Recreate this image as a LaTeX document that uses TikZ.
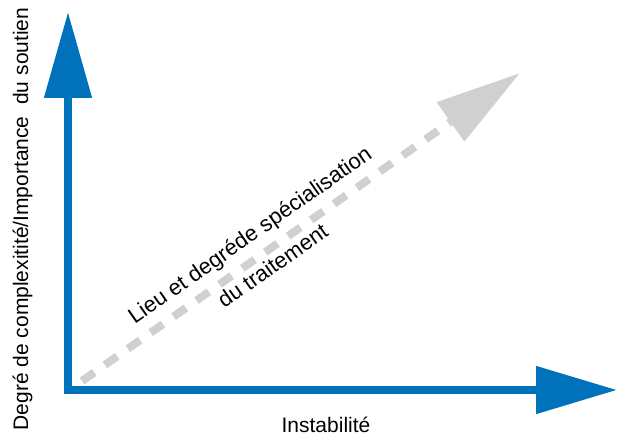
\documentclass[tikz,border=0pt]{standalone}
\usepackage{fontspec}
\setmainfont{Liberation Sans}
\usetikzlibrary{arrows.meta}
\definecolor{axisblue}{RGB}{0,114,188}
\definecolor{trendgrey}{RGB}{208,208,208}

\begin{document}
\begin{tikzpicture}[x=1pt, y=-1pt]
            \tikzstyle{axisline}=[draw=axisblue, line width=8pt, line join=miter, {Triangle[length=86pt,width=46pt]}-{Triangle[length=81pt,width=46pt]}]
            \tikzstyle{trendline}=[draw=trendgrey, line width=8pt, dash pattern=on 15pt off 13pt, -{Triangle[length=85pt,width=46pt]}]
            \tikzstyle{txt}=[inner sep=0pt, font=\fontsize{21}{25}\selectfont]
            \tikzstyle{trendtxt}=[inner sep=0pt, font=\fontsize{22}{26}\selectfont, anchor=base, rotate=35]
            \useasboundingbox (0,0) rectangle (617,435);

            \coordinate (A_0) at (68,390);
            \coordinate (A_y) at (68,12);
            \coordinate (A_x) at (617,390);
            \coordinate (T_0) at (82,381);
            \coordinate (T_1) at (520,73);

            \draw[axisline] (A_y) -- (A_0) -- (A_x);
            \draw[trendline] (T_0) -- (T_1);

            \node[txt, anchor=base] (L_x) at (326,432) {Instabilité};
            \node[txt, anchor=base, rotate=90] (L_y) at (28,219) {Degré de complexitité/Importance\ \ du soutien};
            \node[trendtxt] (L_1) at (254,241) {Lieu et degréde spécialisation};
            \node[trendtxt] (L_2) at (277,272) {du traitement};
        \end{tikzpicture}
\end{document}
